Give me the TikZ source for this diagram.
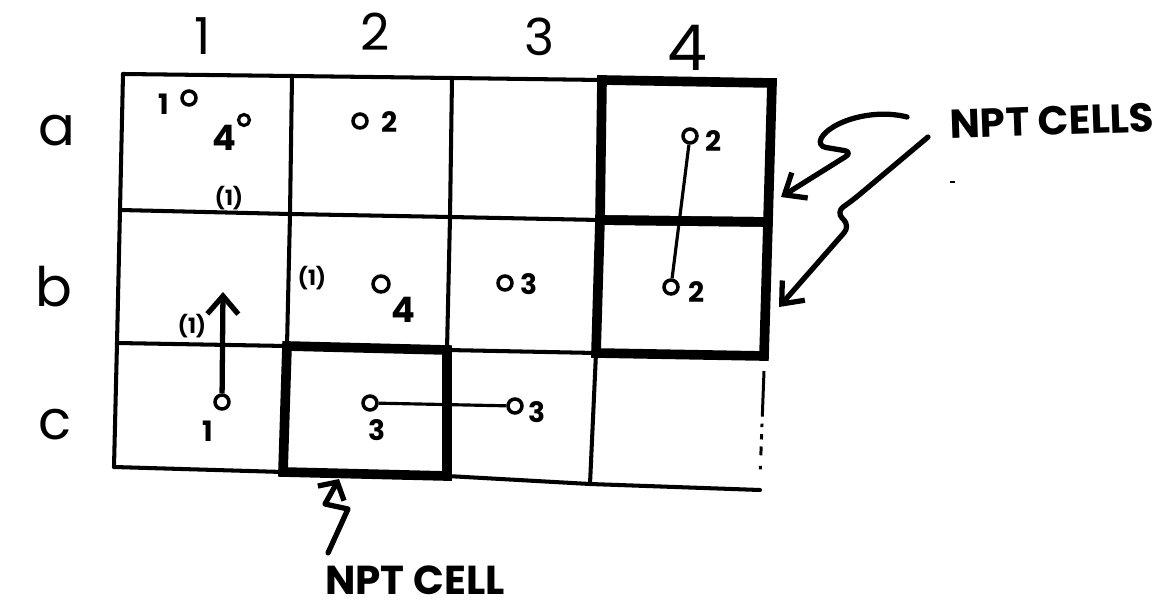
\documentclass[tikz,border=0pt]{standalone}
\usepackage{fontspec}
\setmainfont{Poppins}
\usetikzlibrary{arrows.meta}
\begin{document}
\begin{tikzpicture}[x=0.02cm,y=-0.02cm,
  gridline/.style={line width=2.3pt, line cap=round, line join=round},
  nptbox/.style={line width=5.5pt, line join=miter},
  pt/.style={circle, draw, line width=2pt, minimum size=0.28cm, inner sep=0pt},
  smallpt/.style={circle, draw, line width=1.8pt, minimum size=0.22cm, inner sep=0pt},
  link/.style={line width=1.8pt},
  num/.style={font=\bfseries\fontsize{16}{16}\selectfont, inner sep=0pt},
  bignum/.style={font=\bfseries\fontsize{20}{20}\selectfont, inner sep=0pt},
  par/.style={font=\bfseries\fontsize{12}{12}\selectfont, inner sep=0pt},
  collbl/.style={font=\fontsize{29}{29}\selectfont, inner sep=0pt},
  rowlbl/.style={font=\fontsize{31}{31}\selectfont, inner sep=0pt},
  note/.style={font=\bfseries\fontsize{23}{23}\selectfont, inner sep=0pt},
  pointer/.style={line width=3pt, line cap=round, line join=round, rounded corners=5pt,
    -{Straight Barb[length=0.36cm,width=0.6cm,line width=3pt]}},
  uparrow/.style={line width=3pt,
    -{Straight Barb[length=0.36cm,width=0.62cm,line width=3pt]}}
]
\useasboundingbox (0,0) rectangle (1176,611);

% grid corners (column i, row j)
\coordinate (p00) at (123,74);  \coordinate (p10) at (292,76);  \coordinate (p20) at (452,78);  \coordinate (p30) at (602,80);  \coordinate (p40) at (772,83);
\coordinate (p01) at (120,210); \coordinate (p11) at (290,214); \coordinate (p21) at (450,217); \coordinate (p31) at (600,220); \coordinate (p41) at (768,222);
\coordinate (p02) at (117,343); \coordinate (p12) at (287,346); \coordinate (p22) at (447,350); \coordinate (p32) at (596,353); \coordinate (p42) at (764,356);
\coordinate (p03) at (114,467); \coordinate (p13) at (283,472); \coordinate (p23) at (447,476); \coordinate (p33) at (590,484); \coordinate (p43) at (760,490);

% ordinary grid lines
\draw[gridline] (p00) -- (p10) -- (p20) -- (p30) -- (p40);
\draw[gridline] (p01) -- (p11) -- (p21) -- (p31) -- (p41);
\draw[gridline] (p02) -- (p12) -- (p22) -- (p32) -- (p42);
\draw[gridline] (p03) -- (p13) -- (p23) -- (p33) -- (p43);
\draw[gridline] (p00) -- (p01) -- (p02) -- (p03);
\draw[gridline] (p10) -- (p11) -- (p12) -- (p13);
\draw[gridline] (p20) -- (p21) -- (p22) -- (p23);
\draw[gridline] (p30) -- (p31) -- (p32) -- (p33);
\draw[gridline] (p40) -- (p41) -- (p42);
\draw[line width=1.7pt, dash pattern=on 26pt off 4pt on 2pt off 4pt on 3pt off 4pt on 5pt off 6pt on 2pt off 5pt]
  ([yshift=-0.3cm]p42) -- ([yshift=0.25cm]p43);

% NPT cells (thick outlines)
\draw[nptbox] (p30) -- (p40) -- (p41) -- (p31) -- cycle;
\draw[nptbox] (p31) -- (p41) -- (p42) -- (p32) -- cycle;
\draw[nptbox] (p12) -- (p22) -- (p23) -- (p13) -- cycle;

% column and row labels
\node[collbl] (col1) at (203,36) {1};
\node[collbl] (col2) at (375,32) {2};
\node[collbl] (col3) at (539,37) {3};
\node[collbl, font=\fontsize{36}{36}\selectfont] (col4) at (687,48) {4};
\node[rowlbl] (rowa) at (57,131) {a};
\node[rowlbl] (rowb) at (54,287) {b};
\node[rowlbl] (rowc) at (55,425) {c};

% cell a1
\node[num] (a1one) at (164,104) {1};
\node[pt, minimum size=0.28cm] (a1p1) at (189,98) {};
\node[bignum] (a1four) at (224,138) {4};
\node[smallpt] (a1p4) at (244,120) {};
\node[par] (a1par) at (229,198) {(1)};
% cell a2
\node[pt] (a2p) at (360,121) {};
\node[num] (a2n) at (390,122) {2};
% cell a4 / b4
\node[pt] (a4p) at (690,136) {};
\node[num] (a4n) at (714,141) {2};
\node[pt] (b4p) at (671,287) {};
\node[num] (b4n) at (697,292) {2};
\draw[link] (a4p) -- (b4p);
% cell b1 / c1
\node[par] (b1par) at (192,326) {(1)};
\node[pt] (c1p) at (222,402) {};
\node[num] (c1n) at (208,431) {1};
\coordinate (b1tip) at (223,292);
\draw[uparrow] (c1p) -- (b1tip);
% cell b2
\node[par] (b2par) at (312,278) {(1)};
\node[pt, minimum size=0.32cm] (b2p) at (381,284) {};
\node[bignum] (b2n) at (403,310) {4};
% cell b3
\node[pt] (b3p) at (505,283) {};
\node[num] (b3n) at (529,284) {3};
% cells c2 / c3
\node[pt] (c2p) at (370,403) {};
\node[num] (c2n) at (377,430) {3};
\node[pt] (c3p) at (515,406) {};
\node[num] (c3n) at (537,412) {3};
\draw[link] (c2p) -- (c3p);

% annotations
\node[note, rotate=2] (cells) at (1052,121) {NPT CELLS};
\coordinate (s1) at (907,117);
\coordinate (s2) at (928,137);
\coordinate (t1) at (781,197);
\coordinate (t2) at (779,307);
\draw[pointer] (s1) .. controls (872,108) and (830,122) .. (817,146) -- (853,152) -- (t1);
\draw[pointer] (s2) -- (853,200) -- (836,212) -- (850,226) -- (t2);
\draw[line width=1.4pt] (950,182) -- (955,182);

\node[note] (cell) at (415,580) {NPT CELL};
\coordinate (s3) at (328,553);
\coordinate (t3) at (339,479);
\draw[line width=3pt, line cap=round, line join=round,
  -{Straight Barb[length=0.26cm,width=0.6cm,line width=3pt]}]
  (s3) -- (348,509) -- (325,504) -- (t3);
\end{tikzpicture}
\end{document}
